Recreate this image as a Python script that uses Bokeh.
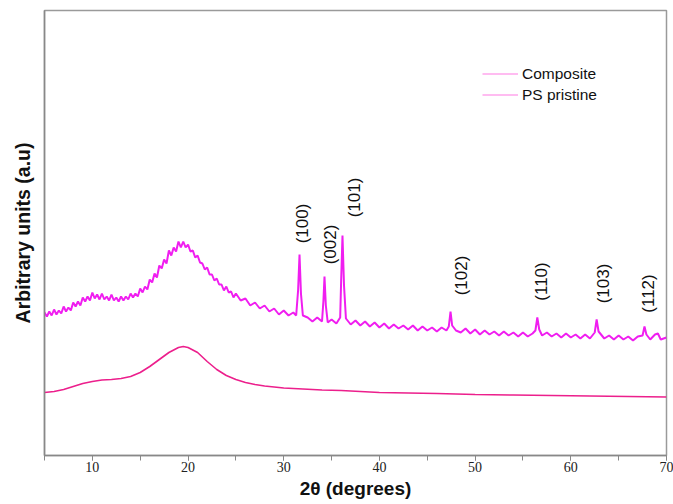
import math
from bokeh.plotting import figure
from bokeh.models import (Range1d, SingleIntervalTicker, FixedTicker, Legend, LegendItem,
                          ColumnDataSource)
from bokeh.core.properties import value
from bokeh.embed import file_html
from bokeh.resources import INLINE

# ---- data (intensities in arbitrary units) ----
composite_x = [5.0, 5.25, 5.5, 5.75, 6.0, 6.25, 6.5, 6.75, 7.0, 7.25, 7.5, 7.75, 8.0, 8.25, 8.5,
               8.75, 9.0, 9.25, 9.5, 9.75, 10.0, 10.25, 10.5, 10.75, 11.0, 11.25, 11.5, 11.75,
               12.0, 12.25, 12.5, 12.75, 13.0, 13.25, 13.5, 13.75, 14.0, 14.25, 14.5, 14.75,
               15.0, 15.25, 15.5, 15.75, 16.0, 16.25, 16.5, 16.75, 17.0, 17.25, 17.5, 17.75,
               18.0, 18.25, 18.5, 18.75, 19.0, 19.25, 19.5, 19.75, 20.0, 20.25, 20.5, 20.75,
               21.0, 21.25, 21.5, 21.75, 22.0, 22.25, 22.5, 22.75, 23.0, 23.25, 23.5, 23.75,
               24.0, 24.25, 24.5, 24.75, 25.0, 25.5, 26.0, 26.5,
               27.0, 27.5, 28.0, 28.5, 29.0, 29.5, 30.0, 30.5, 31.0, 31.3, 31.5, 31.65, 31.8, 32.0,
               32.5, 33.0, 33.5, 34.0, 34.15, 34.26, 34.4, 34.6, 35.0, 35.5, 35.9, 36.0, 36.14, 36.3,
               36.5, 37.0, 37.5, 38.0, 38.5, 39.0, 39.5, 40.0, 40.5, 41.0, 41.5, 42.0, 42.5, 43.0,
               43.5, 44.0, 44.5, 45.0, 45.5, 46.0, 46.5, 47.0, 47.25, 47.43, 47.6, 48.0, 48.5, 49.0,
               49.5, 50.0, 50.5, 51.0, 51.5, 52.0, 52.5, 53.0, 53.5, 54.0, 54.5, 55.0, 55.5, 56.0,
               56.3, 56.5, 56.7, 57.0, 57.5, 58.0, 58.5, 59.0, 59.5, 60.0, 60.5, 61.0, 61.5, 62.0,
               62.5, 62.7, 62.9, 63.5, 64.0, 64.5, 65.0, 65.5, 66.0, 66.5, 67.0, 67.5, 67.7, 67.9,
               68.3, 68.8, 69.1, 69.4, 70.0]
composite_y = [143, 139, 144, 140, 146, 141, 145, 142, 149, 144, 148, 145, 153, 149, 154,
               150, 158, 154, 159, 155, 163, 157, 161, 156, 162, 156, 159, 155,
               161, 155, 158, 154, 159, 155, 159, 156, 162, 158, 162, 159,
               167, 163, 169, 166, 176, 173, 182, 178, 190, 187, 196, 192,
               205, 200, 208, 204, 214, 208, 214, 208, 211, 204, 205, 198,
               200, 193, 192, 186, 188, 181, 181, 175, 177, 171, 171, 165,
               169, 163, 164, 158, 162, 155, 157, 150,
               153, 147, 150, 144, 147, 141, 145, 140, 143, 140, 165, 201, 162, 140,
               138, 134, 138, 134, 155, 179, 150, 133, 136, 132, 138, 175, 220, 170,
               137, 131, 135, 130, 134, 129, 133, 128, 132, 127, 131, 127, 130, 126,
               130, 125, 129, 125, 128, 124, 128, 125, 129, 144, 130, 125, 123, 127,
               122, 126, 121, 125, 121, 124, 120, 124, 120, 123, 119, 123, 119, 122,
               125, 138, 126, 120, 123, 119, 122, 118, 122, 118, 121, 117, 121, 117,
               123, 136, 124, 117, 120, 116, 120, 116, 119, 115, 119, 120, 129, 121,
               116, 121, 122, 116, 118]

pristine_x = [5.0, 6.0, 7.0, 8.0, 9.0, 10.0, 11.0, 12.0, 13.0, 14.0, 15.0, 16.0, 17.0, 18.0,
              19.0, 19.5, 20.0, 21.0, 22.0, 23.0, 24.0, 25.0, 26.0, 27.0, 28.0, 29.0, 30.0,
              32.0, 34.0, 36.0, 38.0, 40.0, 43.0, 46.0, 50.0, 54.0, 58.0, 62.0, 66.0, 70.0]
pristine_y = [63, 64, 66, 69, 72, 74, 75.5, 76, 77, 79, 83, 89, 96, 103,
              108, 109, 108, 103, 94, 86, 80, 76, 73, 71, 69.5, 68.5, 67.5,
              66.5, 65.5, 65, 64, 63, 62.5, 62, 61, 60.5, 60, 59.5, 59, 58.5]

hkl_labels = ["(100)", "(002)", "(101)", "(102)", "(110)", "(103)", "(112)"]
hkl_x = [31.96, 34.89, 37.4, 48.58, 56.94, 63.42, 68.12]
hkl_y = [232, 211, 258, 180, 174, 172, 162]

series_names = ["Composite", "PS pristine"]

# ---- figure ----
p = figure(width=673, height=504, output_backend="svg", toolbar_location=None,
           x_range=Range1d(5, 70), y_range=Range1d(0, 445),
           min_border_left=44, min_border_right=7, min_border_top=10, min_border_bottom=49)
p.grid.visible = False
p.background_fill_color = "white"
p.border_fill_color = "white"
p.outline_line_color = "#9a9a9a"
p.outline_line_width = 1.5

p.line(pristine_x, pristine_y, line_color="#ec1f8c", line_width=1.6)
p.line(composite_x, composite_y, line_color="#f01ef0", line_width=2.0)

src = ColumnDataSource(dict(x=hkl_x, y=hkl_y, t=hkl_labels))
p.text(x="x", y="y", text="t", source=src, angle=math.pi / 2,
       text_align="center", text_baseline="middle",
       text_font=value("Liberation Sans"), text_font_size="17px", text_color="#111111")

# legend with pale sample lines
nan = float("nan")
d1 = p.line([nan, nan], [nan, nan], line_color="#ffa6ec", line_width=1.5)
d2 = p.line([nan, nan], [nan, nan], line_color="#ffa6ec", line_width=1.5)
legend = Legend(items=[LegendItem(label=series_names[0], renderers=[d1]),
                       LegendItem(label=series_names[1], renderers=[d2])],
                location=(438, 351), border_line_color=None, background_fill_alpha=0,
                glyph_width=36, glyph_height=19, label_height=19, spacing=2,
                padding=0, margin=0, label_standoff=4,
                label_text_font="Liberation Sans", label_text_font_size="15.5px",
                label_text_color="#111111")
p.add_layout(legend, "center")

# x axis
xa = p.xaxis[0]
xa.ticker = SingleIntervalTicker(interval=10, num_minor_ticks=2)
xa.axis_line_color = "#888888"
xa.axis_line_width = 1.5
xa.major_tick_line_color = "#888888"
xa.minor_tick_line_color = "#888888"
xa.major_tick_out = 5
xa.major_tick_in = 0
xa.minor_tick_out = 5
xa.minor_tick_in = 0
xa.major_label_standoff = 1
xa.major_label_text_font = "Liberation Serif"
xa.major_label_text_font_size = "14px"
xa.major_label_text_color = "#222222"
xa.axis_label = "2θ (degrees)"
xa.axis_label_text_font = "Liberation Sans"
xa.axis_label_text_font_style = "bold"
xa.axis_label_text_font_size = "19px"
xa.axis_label_text_color = "#111111"
xa.axis_label_standoff = 3

# y axis: no ticks
ya = p.yaxis[0]
ya.ticker = FixedTicker(ticks=[])
ya.axis_line_color = "#888888"
ya.axis_line_width = 1.5
ya.major_tick_line_color = None
ya.minor_tick_line_color = None
ya.axis_label = "Arbitrary units (a.u)"
ya.axis_label_text_font = "Liberation Sans"
ya.axis_label_text_font_style = "bold"
ya.axis_label_text_font_size = "19.5px"
ya.axis_label_text_color = "#111111"
ya.axis_label_standoff = 11

open("out.html", "w").write(file_html(p, INLINE))
